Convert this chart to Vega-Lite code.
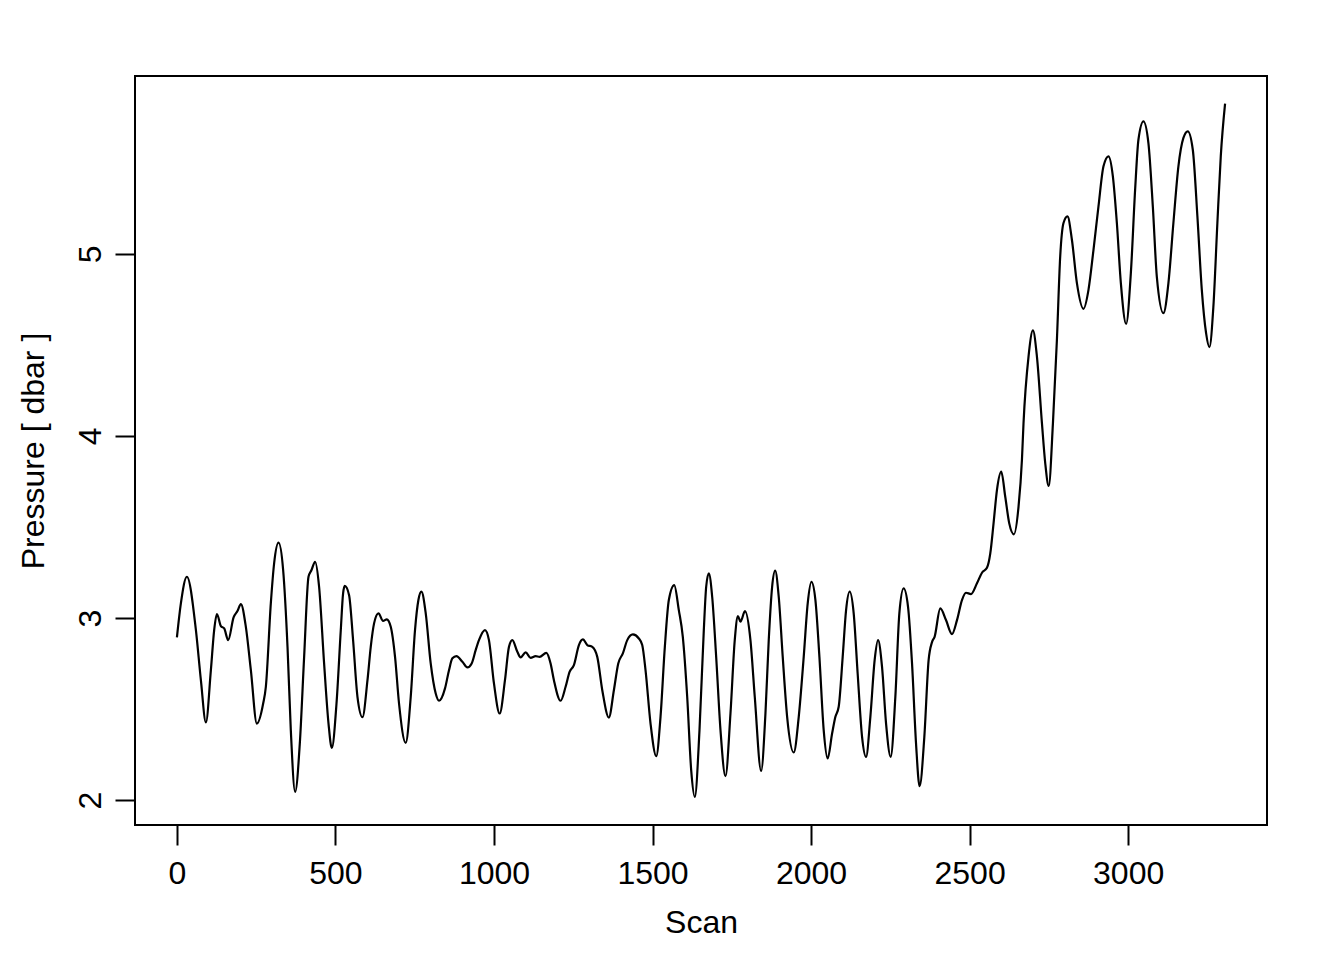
{
  "$schema": "https://vega.github.io/schema/vega-lite/v6.json",
  "width": 1132,
  "height": 749,
  "autosize": {"type": "none"},
  "padding": {"left": 135, "top": 76, "right": 77, "bottom": 135},
  "background": "white",
  "config": {
    "font": "Liberation Sans",
    "view": {"stroke": "black", "strokeWidth": 2},
    "axis": {
      "domain": false,
      "grid": false,
      "ticks": true,
      "tickColor": "black",
      "tickSize": 20,
      "tickWidth": 2,
      "labelFont": "Liberation Sans",
      "labelFontSize": 32,
      "labelColor": "black",
      "titleFont": "Liberation Sans",
      "titleFontSize": 32,
      "titleFontWeight": "normal",
      "titleColor": "black"
    }
  },
  "data": {
    "values": [
      {"scan": 0, "pressure": 2.894},
      {"scan": 12.6, "pressure": 3.082},
      {"scan": 31.5, "pressure": 3.227},
      {"scan": 59.9, "pressure": 2.934},
      {"scan": 75.6, "pressure": 2.659},
      {"scan": 91.4, "pressure": 2.427},
      {"scan": 107.1, "pressure": 2.714},
      {"scan": 117.5, "pressure": 2.934},
      {"scan": 126.1, "pressure": 3.022},
      {"scan": 138.7, "pressure": 2.956},
      {"scan": 149.1, "pressure": 2.943},
      {"scan": 161.7, "pressure": 2.879},
      {"scan": 178.7, "pressure": 3.004},
      {"scan": 191.3, "pressure": 3.04},
      {"scan": 201.7, "pressure": 3.077},
      {"scan": 217.4, "pressure": 2.952},
      {"scan": 233.2, "pressure": 2.714},
      {"scan": 252.1, "pressure": 2.421},
      {"scan": 272.0, "pressure": 2.531},
      {"scan": 280.5, "pressure": 2.623},
      {"scan": 296.2, "pressure": 3.082},
      {"scan": 306.6, "pressure": 3.301},
      {"scan": 320.5, "pressure": 3.414},
      {"scan": 335.0, "pressure": 3.264},
      {"scan": 348.8, "pressure": 2.842},
      {"scan": 359.2, "pressure": 2.385},
      {"scan": 372.8, "pressure": 2.046},
      {"scan": 387.6, "pressure": 2.312},
      {"scan": 401.2, "pressure": 2.787},
      {"scan": 415.0, "pressure": 3.227},
      {"scan": 424.5, "pressure": 3.264},
      {"scan": 435.8, "pressure": 3.309},
      {"scan": 448.4, "pressure": 3.172},
      {"scan": 464.2, "pressure": 2.751},
      {"scan": 478.1, "pressure": 2.421},
      {"scan": 488.5, "pressure": 2.287},
      {"scan": 503.3, "pressure": 2.531},
      {"scan": 516.8, "pressure": 2.934},
      {"scan": 524.1, "pressure": 3.136},
      {"scan": 529.4, "pressure": 3.177},
      {"scan": 543.0, "pressure": 3.126},
      {"scan": 555.6, "pressure": 2.879},
      {"scan": 569.4, "pressure": 2.568},
      {"scan": 585.2, "pressure": 2.456},
      {"scan": 601.0, "pressure": 2.659},
      {"scan": 611.3, "pressure": 2.842},
      {"scan": 621.8, "pressure": 2.971},
      {"scan": 635.6, "pressure": 3.026},
      {"scan": 650.1, "pressure": 2.985},
      {"scan": 661.8, "pressure": 2.993},
      {"scan": 674.4, "pressure": 2.952},
      {"scan": 687.9, "pressure": 2.787},
      {"scan": 700.5, "pressure": 2.531},
      {"scan": 721.6, "pressure": 2.315},
      {"scan": 737.4, "pressure": 2.568},
      {"scan": 750.9, "pressure": 2.934},
      {"scan": 761.6, "pressure": 3.099},
      {"scan": 771.1, "pressure": 3.145},
      {"scan": 784.7, "pressure": 3.026},
      {"scan": 800.4, "pressure": 2.751},
      {"scan": 816.2, "pressure": 2.586},
      {"scan": 826.6, "pressure": 2.546},
      {"scan": 845.5, "pressure": 2.614},
      {"scan": 858.1, "pressure": 2.714},
      {"scan": 868.8, "pressure": 2.779},
      {"scan": 881.4, "pressure": 2.791},
      {"scan": 900.3, "pressure": 2.76},
      {"scan": 916.1, "pressure": 2.729},
      {"scan": 929.6, "pressure": 2.751},
      {"scan": 942.2, "pressure": 2.824},
      {"scan": 952.6, "pressure": 2.879},
      {"scan": 971.5, "pressure": 2.934},
      {"scan": 984.1, "pressure": 2.879},
      {"scan": 999.9, "pressure": 2.641},
      {"scan": 1017.9, "pressure": 2.476},
      {"scan": 1034.6, "pressure": 2.659},
      {"scan": 1047.2, "pressure": 2.842},
      {"scan": 1057.9, "pressure": 2.879},
      {"scan": 1073.6, "pressure": 2.815},
      {"scan": 1084.0, "pressure": 2.784},
      {"scan": 1099.8, "pressure": 2.812},
      {"scan": 1115.5, "pressure": 2.782},
      {"scan": 1131.3, "pressure": 2.791},
      {"scan": 1143.9, "pressure": 2.787},
      {"scan": 1165.0, "pressure": 2.809},
      {"scan": 1178.5, "pressure": 2.751},
      {"scan": 1189.0, "pressure": 2.659},
      {"scan": 1210.0, "pressure": 2.546},
      {"scan": 1225.8, "pressure": 2.623},
      {"scan": 1238.4, "pressure": 2.705},
      {"scan": 1252.0, "pressure": 2.742},
      {"scan": 1267.8, "pressure": 2.852},
      {"scan": 1280.3, "pressure": 2.883},
      {"scan": 1294.2, "pressure": 2.852},
      {"scan": 1310.0, "pressure": 2.842},
      {"scan": 1325.7, "pressure": 2.787},
      {"scan": 1341.5, "pressure": 2.604},
      {"scan": 1362.3, "pressure": 2.454},
      {"scan": 1378.1, "pressure": 2.604},
      {"scan": 1391.9, "pressure": 2.751},
      {"scan": 1406.4, "pressure": 2.806},
      {"scan": 1420.3, "pressure": 2.879},
      {"scan": 1438.0, "pressure": 2.91},
      {"scan": 1456.8, "pressure": 2.888},
      {"scan": 1467.5, "pressure": 2.852},
      {"scan": 1477.9, "pressure": 2.714},
      {"scan": 1493.7, "pressure": 2.421},
      {"scan": 1511.7, "pressure": 2.242},
      {"scan": 1525.2, "pressure": 2.458},
      {"scan": 1538.8, "pressure": 2.842},
      {"scan": 1551.4, "pressure": 3.099},
      {"scan": 1568.4, "pressure": 3.181},
      {"scan": 1582.9, "pressure": 3.044},
      {"scan": 1595.5, "pressure": 2.897},
      {"scan": 1609.3, "pressure": 2.568},
      {"scan": 1621.9, "pressure": 2.165},
      {"scan": 1633.3, "pressure": 2.018},
      {"scan": 1648.1, "pressure": 2.385},
      {"scan": 1661.7, "pressure": 2.934},
      {"scan": 1669.2, "pressure": 3.172},
      {"scan": 1677.4, "pressure": 3.246},
      {"scan": 1688.1, "pressure": 3.117},
      {"scan": 1700.7, "pressure": 2.787},
      {"scan": 1714.3, "pressure": 2.385},
      {"scan": 1730.0, "pressure": 2.132},
      {"scan": 1745.8, "pressure": 2.476},
      {"scan": 1759.3, "pressure": 2.879},
      {"scan": 1769.4, "pressure": 3.011},
      {"scan": 1777.3, "pressure": 2.98},
      {"scan": 1791.5, "pressure": 3.038},
      {"scan": 1808.8, "pressure": 2.879},
      {"scan": 1822.4, "pressure": 2.568},
      {"scan": 1842.5, "pressure": 2.161},
      {"scan": 1856.1, "pressure": 2.476},
      {"scan": 1866.5, "pressure": 2.879},
      {"scan": 1877.2, "pressure": 3.172},
      {"scan": 1886.7, "pressure": 3.26},
      {"scan": 1898.0, "pressure": 3.117},
      {"scan": 1910.6, "pressure": 2.787},
      {"scan": 1924.5, "pressure": 2.458},
      {"scan": 1945.3, "pressure": 2.262},
      {"scan": 1961.1, "pressure": 2.458},
      {"scan": 1976.8, "pressure": 2.787},
      {"scan": 1989.4, "pressure": 3.081},
      {"scan": 2001.1, "pressure": 3.199},
      {"scan": 2013.7, "pressure": 3.099},
      {"scan": 2026.3, "pressure": 2.787},
      {"scan": 2039.8, "pressure": 2.385},
      {"scan": 2052.4, "pressure": 2.229},
      {"scan": 2066.3, "pressure": 2.366},
      {"scan": 2076.7, "pressure": 2.458},
      {"scan": 2087.1, "pressure": 2.513},
      {"scan": 2099.7, "pressure": 2.787},
      {"scan": 2110.4, "pressure": 3.044},
      {"scan": 2121.8, "pressure": 3.145},
      {"scan": 2134.4, "pressure": 3.026},
      {"scan": 2146.9, "pressure": 2.696},
      {"scan": 2160.8, "pressure": 2.348},
      {"scan": 2173.4, "pressure": 2.238},
      {"scan": 2187.0, "pressure": 2.458},
      {"scan": 2200.5, "pressure": 2.769},
      {"scan": 2211.2, "pressure": 2.879},
      {"scan": 2223.8, "pressure": 2.732},
      {"scan": 2236.5, "pressure": 2.421},
      {"scan": 2251.0, "pressure": 2.238},
      {"scan": 2265.8, "pressure": 2.568},
      {"scan": 2278.4, "pressure": 3.026},
      {"scan": 2291.9, "pressure": 3.163},
      {"scan": 2305.8, "pressure": 3.062},
      {"scan": 2318.4, "pressure": 2.751},
      {"scan": 2331.0, "pressure": 2.312},
      {"scan": 2342.3, "pressure": 2.077},
      {"scan": 2357.2, "pressure": 2.348},
      {"scan": 2370.7, "pressure": 2.769},
      {"scan": 2381.4, "pressure": 2.868},
      {"scan": 2389.6, "pressure": 2.897},
      {"scan": 2407.5, "pressure": 3.053},
      {"scan": 2425.5, "pressure": 2.989},
      {"scan": 2444.4, "pressure": 2.912},
      {"scan": 2460.2, "pressure": 2.989},
      {"scan": 2475.9, "pressure": 3.099},
      {"scan": 2488.5, "pressure": 3.139},
      {"scan": 2504.3, "pressure": 3.132},
      {"scan": 2523.2, "pressure": 3.191},
      {"scan": 2539.0, "pressure": 3.249},
      {"scan": 2554.7, "pressure": 3.276},
      {"scan": 2565.2, "pressure": 3.355},
      {"scan": 2575.5, "pressure": 3.52},
      {"scan": 2586.2, "pressure": 3.703},
      {"scan": 2599.8, "pressure": 3.804},
      {"scan": 2612.4, "pressure": 3.666},
      {"scan": 2625.0, "pressure": 3.52},
      {"scan": 2639.8, "pressure": 3.46},
      {"scan": 2654.3, "pressure": 3.612},
      {"scan": 2665.0, "pressure": 3.868},
      {"scan": 2670.0, "pressure": 4.07},
      {"scan": 2685.8, "pressure": 4.436},
      {"scan": 2699.7, "pressure": 4.579},
      {"scan": 2712.3, "pressure": 4.436},
      {"scan": 2728.1, "pressure": 4.07},
      {"scan": 2738.5, "pressure": 3.85},
      {"scan": 2749.5, "pressure": 3.725},
      {"scan": 2762.8, "pressure": 4.07},
      {"scan": 2775.3, "pressure": 4.527},
      {"scan": 2785.7, "pressure": 4.985},
      {"scan": 2796.1, "pressure": 5.169},
      {"scan": 2808.7, "pressure": 5.205},
      {"scan": 2822.6, "pressure": 5.077},
      {"scan": 2838.4, "pressure": 4.839},
      {"scan": 2859.1, "pressure": 4.698},
      {"scan": 2874.9, "pressure": 4.802},
      {"scan": 2890.7, "pressure": 5.022},
      {"scan": 2906.4, "pressure": 5.26},
      {"scan": 2922.2, "pressure": 5.48},
      {"scan": 2938.0, "pressure": 5.535},
      {"scan": 2951.8, "pressure": 5.425},
      {"scan": 2964.4, "pressure": 5.169},
      {"scan": 2977.0, "pressure": 4.839},
      {"scan": 2993.7, "pressure": 4.615},
      {"scan": 3008.5, "pressure": 4.894},
      {"scan": 3022.0, "pressure": 5.352},
      {"scan": 3032.4, "pressure": 5.626},
      {"scan": 3048.2, "pressure": 5.727},
      {"scan": 3063.9, "pressure": 5.608},
      {"scan": 3077.8, "pressure": 5.26},
      {"scan": 3090.4, "pressure": 4.875},
      {"scan": 3111.2, "pressure": 4.674},
      {"scan": 3127.0, "pressure": 4.839},
      {"scan": 3142.7, "pressure": 5.169},
      {"scan": 3158.5, "pressure": 5.48},
      {"scan": 3174.3, "pressure": 5.636},
      {"scan": 3188.1, "pressure": 5.672},
      {"scan": 3203.9, "pressure": 5.571},
      {"scan": 3218.4, "pressure": 5.205},
      {"scan": 3232.3, "pressure": 4.802},
      {"scan": 3245.8, "pressure": 4.564},
      {"scan": 3256.2, "pressure": 4.487},
      {"scan": 3268.8, "pressure": 4.71},
      {"scan": 3281.4, "pressure": 5.169},
      {"scan": 3292.1, "pressure": 5.535},
      {"scan": 3305.7, "pressure": 5.824}
    ]
  },
  "mark": {"type": "line", "interpolate": "monotone", "color": "black", "strokeWidth": 2.2},
  "encoding": {
    "x": {
      "field": "scan",
      "type": "quantitative",
      "scale": {"domain": [-132.2, 3437.9], "nice": false, "zero": false},
      "axis": {
        "values": [0, 500, 1000, 1500, 2000, 2500, 3000],
        "format": "d",
        "title": "Scan",
        "labelPadding": 13,
        "titlePadding": 18,
        "labelFlush": false,
        "labelOverlap": false
      }
    },
    "y": {
      "field": "pressure",
      "type": "quantitative",
      "scale": {"domain": [1.864, 5.976], "nice": false, "zero": false},
      "axis": {
        "values": [2, 3, 4, 5],
        "format": "d",
        "title": "Pressure [ dbar ]",
        "labelAngle": -90,
        "labelAlign": "center",
        "labelBaseline": "alphabetic",
        "labelPadding": 15,
        "titlePadding": 24,
        "labelFlush": false,
        "labelOverlap": false
      }
    }
  }
}
